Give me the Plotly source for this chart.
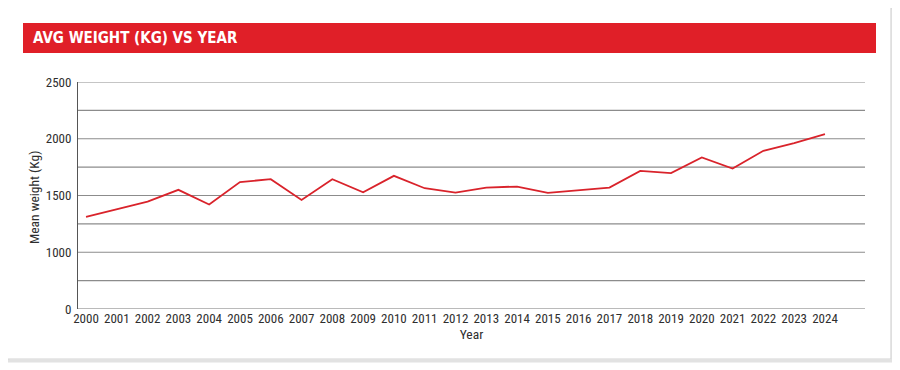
import plotly.graph_objects as go

years = list(range(2000, 2025))
mean_weight = [1312, 1379, 1447, 1550, 1421, 1618, 1644, 1461, 1644, 1529,
               1673, 1564, 1526, 1570, 1579, 1523, 1545, 1570, 1717, 1697,
               1835, 1738, 1894, 1962, 2041]
y_tick_vals = [500, 1000, 1500, 2000, 2500]
y_tick_text = ["0", "1000", "1500", "2000", "2500"]

title_text = "AVG WEIGHT (KG) VS YEAR"
x_title = "Year"
y_title = "Mean weight (Kg)"

OFF = 8  # default page body margin of the browser
W, H = 900 - OFF, 370 - OFF
L, R, T, B = 78 - OFF, 35, 82 - OFF, 61
PW, PH = W - L - R, H - T - B


def px(x):
    return (x - OFF - L) / PW


def py(y):
    return (H - B - (y - OFF)) / PH


FONT = "Liberation Sans Narrow, Roboto Condensed, Roboto, sans-serif"
RED = "#e01f28"
TXT = "#2e2e2e"

fig = go.Figure()
fig.add_trace(go.Scatter(
    x=years, y=mean_weight, mode="lines",
    line=dict(color="#d9232b", width=1.8),
    showlegend=False, hoverinfo="x+y",
))

shapes = [
    dict(type="rect", xref="paper", yref="paper",
         x0=px(8), x1=px(893), y0=py(361), y1=py(8),
         line=dict(color="#e2e2e2", width=3), fillcolor="rgba(0,0,0,0)", layer="below"),
    dict(type="rect", xref="paper", yref="paper",
         x0=px(7), x1=px(891), y0=py(359), y1=py(7),
         line=dict(color="#d4d4d4", width=1.2), fillcolor="white", layer="below"),
    dict(type="rect", xref="paper", yref="paper",
         x0=px(23), x1=px(876), y0=py(53), y1=py(23),
         line=dict(width=0), fillcolor=RED, layer="below"),
]

annotations = [
    dict(text="<b>" + title_text + "</b>", xref="paper", yref="paper",
         x=px(31), y=py(38), xanchor="left", yanchor="middle", showarrow=False,
         font=dict(family="DejaVu Sans Condensed, Liberation Sans Narrow, sans-serif",
                   size=15, color="white")),
    dict(text=y_title, xref="paper", yref="paper", textangle=-90,
         x=px(34), y=py(197), xanchor="center", yanchor="middle", showarrow=False,
         font=dict(size=13.5, color=TXT)),
]

fig.update_layout(
    width=W, height=H,
    margin=dict(l=L, r=R, t=T, b=B, pad=0),
    paper_bgcolor="white", plot_bgcolor="white",
    font=dict(family=FONT, size=13, color=TXT),
    shapes=shapes, annotations=annotations,
    xaxis=dict(
        range=[1999.74, 2025.3], tickmode="array", tickvals=years,
        ticktext=[str(y) for y in years],
        showgrid=False, zeroline=False, showline=False, ticks="",
        tickfont=dict(size=13, color=TXT),
        title=dict(text=x_title, standoff=4, font=dict(size=13.5, color=TXT)),
    ),
    yaxis=dict(
        range=[500, 2500], tickmode="array", tickvals=y_tick_vals, ticktext=y_tick_text,
        showgrid=False, zeroline=False, showline=True, linecolor="#555555", linewidth=1,
        ticks="", ticklabelstandoff=3,
        tickfont=dict(size=13, color=TXT),
    ),
)

grid_vals = list(range(500, 2501, 250))
for g in grid_vals:
    fig.add_shape(type="line", xref="paper", yref="y", x0=0, x1=1, y0=g, y1=g,
                  line=dict(color="#8c8c8c" if g > 500 else "#777777", width=1.2),
                  layer="below")

fig.write_html("out.html")
